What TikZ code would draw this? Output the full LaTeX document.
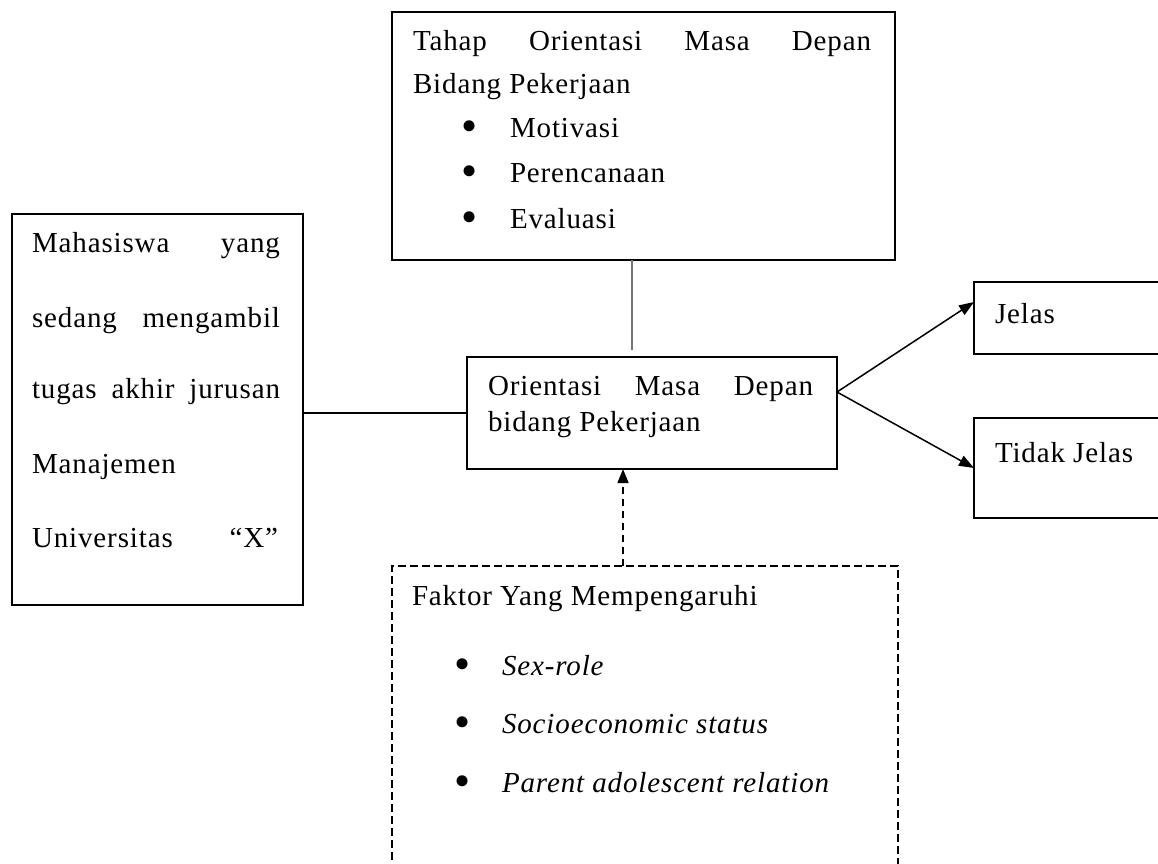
\documentclass[tikz,border=0pt]{standalone}
\usepackage{fontspec}
\setmainfont{Liberation Serif}[LetterSpace=3]
\usetikzlibrary{arrows.meta}
\newcommand{\bigbul}{\raisebox{-4pt}{\fontsize{46}{46}\selectfont\textbullet}}
\begin{document}
\begin{tikzpicture}[x=1pt,y=-1pt,
  box/.style={draw=black,line width=1.5pt,inner sep=0pt,outer sep=0pt,anchor=north west},
  dbox/.style={box,dash pattern=on 8pt off 4pt},
  txt/.style={inner sep=0pt,outer sep=0pt,anchor=base west,font=\fontsize{29}{36}\selectfont},
  conn/.style={line width=1.5pt,draw=black},
  arr/.style={conn,-{Triangle[length=15pt,width=11pt]}}
]
\useasboundingbox (0,0) rectangle (1158,863);
\fill[white] (0,0) rectangle (1158,863);

% boxes
\node[box,minimum width=503pt,minimum height=248pt] (top) at (392,12) {};
\node[box,minimum width=291pt,minimum height=391pt] (left) at (12,214) {};
\node[box,minimum width=370pt,minimum height=112pt] (center) at (467,357) {};
\node[box,minimum width=200pt,minimum height=72pt] (jelas) at (974,282) {};
\node[box,minimum width=200pt,minimum height=100pt] (tidak) at (974,418) {};
\node[dbox,minimum width=506pt,minimum height=310pt] (fac) at (392,566) {};

% top box text
\node[txt] (t1) at (413,50) {\makebox[458pt][s]{Tahap Orientasi Masa Depan}};
\node[txt] (t2) at (413,93) {Bidang Pekerjaan};
\node[txt] (t3) at (461,137) {\makebox[49pt][l]{\bigbul}Motivasi};
\node[txt] (t4) at (461,182) {\makebox[49pt][l]{\bigbul}Perencanaan};
\node[txt] (t5) at (461,228) {\makebox[49pt][l]{\bigbul}Evaluasi};

% left box text
\node[txt] (l1) at (32,252) {\makebox[248pt][s]{Mahasiswa yang}};
\node[txt] (l2) at (32,327) {\makebox[248pt][s]{sedang mengambil}};
\node[txt] (l3) at (32,398) {\makebox[248pt][s]{tugas akhir jurusan}};
\node[txt] (l4) at (32,473) {Manajemen};
\node[txt] (l5) at (32,547) {\makebox[246pt][s]{Universitas “X”}};

% center box text
\node[txt] (c1) at (488,395) {\makebox[325pt][s]{Orientasi Masa Depan}};
\node[txt] (c2) at (488,431) {bidang Pekerjaan};

% outcome boxes text
\node[txt] (j1) at (995,323) {Jelas};
\node[txt] (j2) at (995,462) {Tidak Jelas};

% factor box text
\node[txt] (f1) at (412,605) {Faktor Yang Mempengaruhi};
\node[txt] (f2) at (454,675) {\makebox[48pt][l]{\bigbul}\textit{Sex-role}};
\node[txt] (f3) at (454,733) {\makebox[48pt][l]{\bigbul}\textit{Socioeconomic status}};
\node[txt] (f4) at (454,792) {\makebox[48pt][l]{\bigbul}\textit{Parent adolescent relation}};

% connectors
\draw[conn] (left.east |- center.west) -- (center.west);
\coordinate (vt) at ([xshift=-11.5pt]top.south);
\draw[line width=2pt,draw=black!55] (vt) -- ([yshift=7pt]vt |- center.north);
\coordinate (ce) at ([yshift=21pt]center.east);
\draw[arr] (ce) -- ([yshift=16pt]jelas.west);
\draw[arr] (ce) -- (tidak.west);
\coordinate (fa) at ([xshift=-22pt]fac.north);
\draw[conn,dash pattern=on 7pt off 5pt,-{Triangle[length=14pt,width=11pt]}] (fa) -- (fa |- center.south);
\end{tikzpicture}
\end{document}
